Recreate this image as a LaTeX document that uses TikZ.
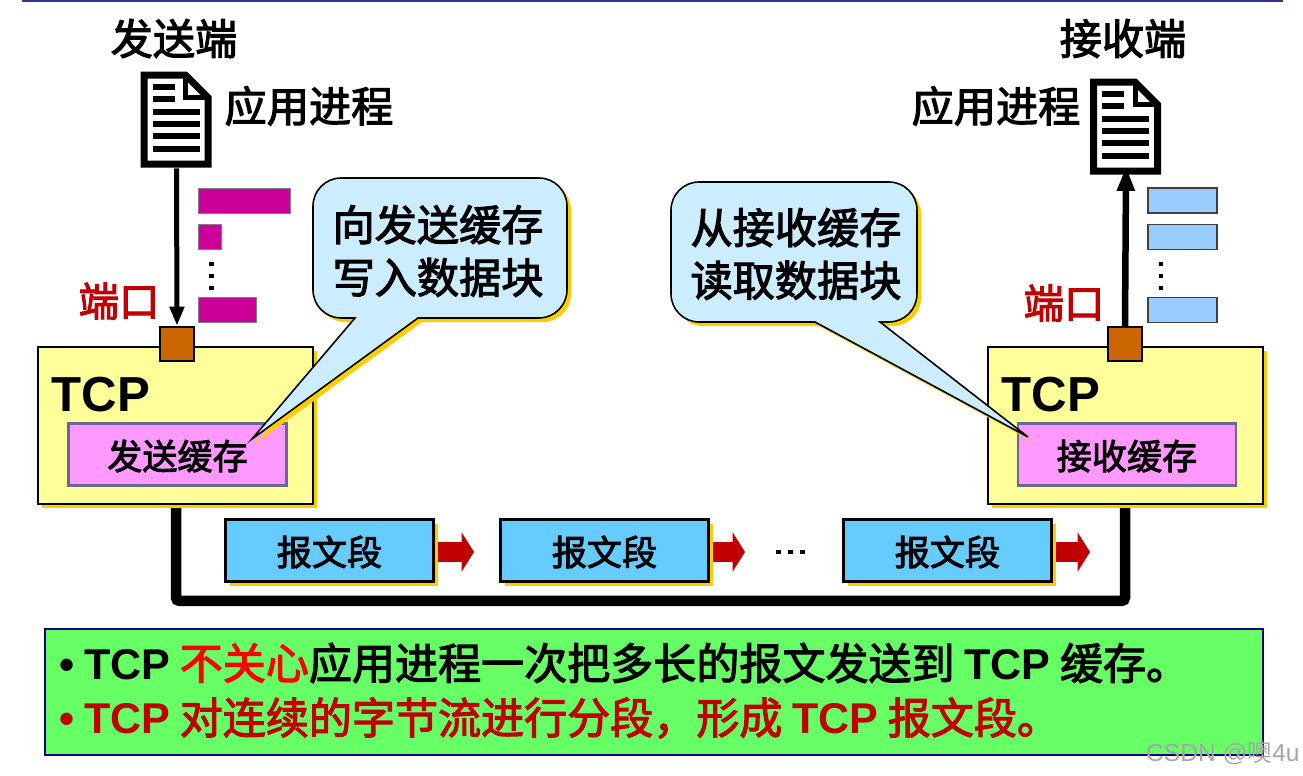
\documentclass[tikz,border=0pt]{standalone}
\usepackage{fontspec}
\setmainfont{Noto Sans CJK SC}[BoldFont=Noto Sans CJK SC,BoldFeatures={FakeBold=2.6}]
\newfontfamily\latinfont{Liberation Sans}
\usetikzlibrary{arrows.meta,shadows,calc}
\def\px{0.02cm}
\newcommand{\tcpword}{{\latinfont\bfseries TCP}}
\definecolor{goldshadow}{HTML}{FFCC00}
\definecolor{boxyellow}{HTML}{FFFF99}
\definecolor{bufpink}{HTML}{FF99FF}
\definecolor{bufline}{HTML}{666699}
\definecolor{segblue}{HTML}{66CCFF}
\definecolor{barblue}{HTML}{99CCFF}
\definecolor{barmagenta}{HTML}{CC0099}
\definecolor{portbrown}{HTML}{CC6600}
\definecolor{darkred}{HTML}{C00000}
\definecolor{calloutblue}{HTML}{CCECFF}
\definecolor{notegreen}{HTML}{66FF66}
\tikzset{
  goldshadow/.style={drop shadow={shadow xshift=2.3pt,shadow yshift=-2.3pt,fill=goldshadow,opacity=1}},
  bigtext/.style={font=\fontsize{24}{30}\selectfont\bfseries,inner sep=0pt},
  midtext/.style={font=\fontsize{20}{24}\selectfont\bfseries,inner sep=0pt,text height=19pt,text depth=2pt},
  porttext/.style={font=\fontsize{23}{28}\selectfont\bfseries,text=darkred,inner sep=0pt},
  tcpbox/.style={draw,line width=1.5pt,fill=boxyellow,minimum width=275*\px,minimum height=157*\px,inner sep=0pt,goldshadow},
  tcptext/.style={font=\fontsize{28}{32}\selectfont\latinfont\bfseries,inner sep=0pt},
  bufbox/.style={draw=bufline,line width=1.3pt,fill=bufpink,minimum width=218*\px,minimum height=62*\px,inner sep=0pt,midtext},
  segbox/.style={draw,line width=1.5pt,fill=segblue,minimum width=208*\px,minimum height=62*\px,inner sep=0pt,midtext,goldshadow},
  portbox/.style={draw,line width=1.3pt,fill=portbrown,minimum width=34*\px,minimum height=34*\px,inner sep=0pt},
  magbar/.style={draw=black!50,line width=.5pt,fill=barmagenta,minimum height=25*\px,inner sep=0pt},
  bluebar/.style={draw=black!75,line width=.7pt,fill=barblue,minimum width=69*\px,minimum height=25*\px,inner sep=0pt},
  docbox/.style={minimum width=71*\px,minimum height=96*\px,inner sep=0pt},
  segarrow/.style={line width=11pt,draw=darkred,-{Triangle[length=7pt,width=22pt]}},
  calloutshape/.style={draw,line width=.9pt,fill=calloutblue,goldshadow},
  docicon/.pic={
    \draw[line width=7*\px,fill=white,line join=miter] (3.5,3.5) -- (45,3.5) -- (67.5,26) -- (67.5,92.5) -- (3.5,92.5) -- cycle;
    \draw[line width=5*\px] (45,3) -- (45,26) -- (68,26);
    \foreach \ypos in {15,27}
      \draw[line width=6*\px] (12,\ypos) -- (34,\ypos);
    \foreach \ypos in {40,52,64,77}
      \draw[line width=6*\px] (12,\ypos) -- (59,\ypos);
  }
}

\begin{document}
\begin{tikzpicture}[x=\px,y=-\px]
  \useasboundingbox (0,0) rectangle (1303,776);

  % rule on top
  \draw[line width=1.2pt,draw=blue!50!black!80!white] (22,1) -- (1283,1);

  \node[bigtext] (titleSend) at (174,38.5) {发送端};
  \node[bigtext] (titleRecv) at (1123,38.5) {接收端};

  % documents
  \node[docbox] (docSend) at (176.5,120) {};
  \node[docbox] (docRecv) at (1126,127) {};
  \pic at (docSend.north west) {docicon};
  \pic at (docRecv.north west) {docicon};
  \node[bigtext] (appSend) at (309,106) {应用进程};
  \node[bigtext] (appRecv) at (996,106) {应用进程};

  % line between the two boxes
  \coordinate (lineSend) at (176,505);
  \coordinate (lineRecv) at (1125,505);
  \draw[line width=10.5*\px,rounded corners=2pt] (lineSend) -- (176,601) -- (1125,601) -- (lineRecv);

  % TCP boxes
  \node[tcpbox] (tcpSend) at (175.5,425.5) {};
  \node[tcpbox] (tcpRecv) at (1125.5,425.5) {};
  \node[tcptext] (tcpLabelSend) at (101,395) {TCP};
  \node[tcptext] (tcpLabelRecv) at (1051,395) {TCP};
  \node[bufbox] (bufSend) at (177.5,454.5) {发送缓存};
  \node[bufbox] (bufRecv) at (1127,454.5) {接收缓存};

  % ports and process arrows
  \node[portbox] (portSend) at (177,344) {};
  \node[portbox] (portRecv) at (1125,344) {};
  \draw[line width=5*\px,-{Triangle[length=11pt,width=8pt]}] (docSend.south) -- (portSend.north);
  \draw[line width=6.5*\px,-{Triangle[length=14pt,width=9.5pt]},shorten >=-9*\px] (portRecv.north) -- (docRecv.south);
  \node[porttext] (portTextSend) at (119,301) {端口};
  \node[porttext] (portTextRecv) at (1064,303) {端口};

  % data blocks
  \node[magbar,minimum width=92*\px] (barA) at (244,200.5) {};
  \node[magbar,minimum width=23*\px] (barB) at (209.5,237) {};
  \node[magbar,minimum width=58*\px] (barC) at (227,310) {};
  \node[bluebar] (recvA) at (1182.5,200.5) {};
  \node[bluebar] (recvB) at (1182.5,237) {};
  \node[bluebar] (recvC) at (1182.5,310) {};
  \foreach \ypos in {262,274,286}
    \fill (209,\ypos) rectangle ++(4.5,4.5);
  \foreach \ypos in {262,274,286}
    \fill (1158.5,\ypos) rectangle ++(4.5,4.5);

  % callouts
  \path[calloutshape] (355,318) -- (252,439) -- (418,318) [rounded corners=16pt] -- (567,318) -- (567,178) -- (313,178) -- (313,318) [sharp corners] -- cycle;
  \path[calloutshape] (815,322) -- (1028,437) -- (880,322) [rounded corners=16pt] -- (917,322) -- (917,182) -- (671,182) -- (671,322) [sharp corners] -- cycle;
  \node[bigtext,align=center] (noteSend) at (438,251) {向发送缓存\\写入数据块};
  \node[bigtext,align=center] (noteRecv) at (796,254) {从接收缓存\\读取数据块};

  % segments
  \node[segbox] (segA) at (329.5,550.5) {报文段};
  \node[segbox] (segB) at (604.5,550.5) {报文段};
  \node[segbox] (segC) at (947.5,550.5) {报文段};
  \coordinate (tipA) at (474,552);
  \coordinate (tipB) at (745,552);
  \coordinate (tipC) at (1090,552);
  \draw[segarrow] (segA.east |- tipA) ++(3,0) -- (tipA);
  \draw[segarrow] (segB.east |- tipB) ++(3,0) -- (tipB);
  \draw[segarrow] (segC.east |- tipC) ++(3,0) -- (tipC);
  \foreach \xpos in {776,788,800}
    \fill (\xpos,550) rectangle ++(4.5,4.5);

  % note at the bottom
  \node[draw=blue!50!black,line width=.9pt,fill=notegreen,minimum width=1218*\px,minimum height=126*\px,inner sep=0pt] (note) at (654,692) {};
  \node[bigtext,anchor=west,font=\fontsize{24.5}{30}\selectfont\bfseries] (noteLineA) at (59,663) {{\latinfont\bfseries•} \tcpword{} \textcolor{red}{不关心}应用进程一次把多长的报文发送到 \tcpword{} 缓存。};
  \node[bigtext,anchor=west,font=\fontsize{24.5}{30}\selectfont\bfseries,text=darkred] (noteLineB) at (59,718) {{\latinfont\bfseries•} \tcpword{} 对连续的字节流进行分段，形成 \tcpword{} 报文段。};

  \node[font=\fontsize{14}{16}\selectfont,text=black!35,anchor=east,inner sep=0pt] (mark) at (1300,753) {{\latinfont CSDN @}噢{\latinfont 4u}};
\end{tikzpicture}
\end{document}
